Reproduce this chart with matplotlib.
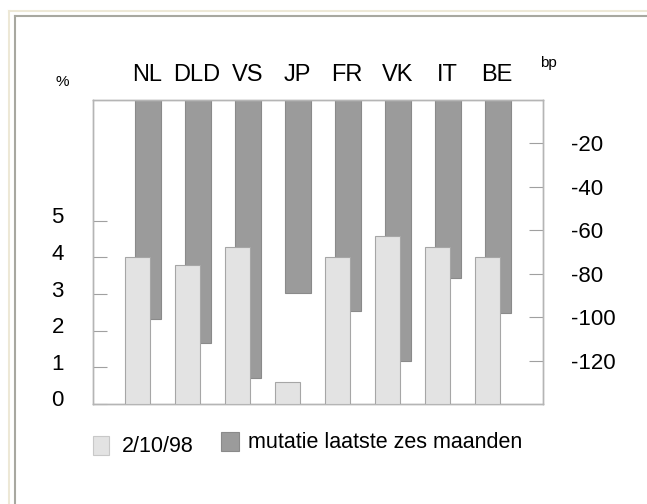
import matplotlib
matplotlib.use("Agg")
import matplotlib.pyplot as plt
from matplotlib.patches import Rectangle
from matplotlib.lines import Line2D
from matplotlib.transforms import ScaledTranslation

plt.rcParams['font.family'] = ['Liberation Sans', 'DejaVu Sans']

categories = ["NL", "DLD", "VS", "JP", "FR", "VK", "IT", "BE"]
level_pct = [4.0, 3.8, 4.3, 0.6, 4.0, 4.6, 4.3, 4.0]          # 2/10/98, left axis (%)
change_bp = [-101, -112, -128, -89, -97, -120, -82, -98]      # mutatie laatste zes maanden (bp)
left_ticks = [0, 1, 2, 3, 4, 5]
right_ticks = [-20, -40, -60, -80, -100, -120]
legend_labels = ["2/10/98", "mutatie laatste zes maanden"]

W, H = 647, 504
fig = plt.figure(figsize=(W / 100, H / 100), dpi=100)
fig.patch.set_facecolor('white')

light_face, light_edge = '#e3e3e3', '#a6a6a6'
dark_face, dark_edge = '#9b9b9b', '#8a8a8a'
spine_c = '#b5b5b5'
tick_c = '#a0a0a0'

def fx(x): return x / W
def fy(y): return 1 - y / H

# outer frame lines
fig.add_artist(Line2D([fx(9), 1.0], [fy(11), fy(11)], color='#ede8d6', lw=1.5, transform=fig.transFigure))
fig.add_artist(Line2D([fx(9), fx(9)], [fy(11), 0.0], color='#ede8d6', lw=1.5, transform=fig.transFigure))
fig.add_artist(Line2D([fx(15), 1.0], [fy(16), fy(16)], color='#a8a8a0', lw=1.5, transform=fig.transFigure))
fig.add_artist(Line2D([fx(15), fx(15)], [fy(16), 0.0], color='#a8a8a0', lw=1.5, transform=fig.transFigure))

ax = fig.add_axes([fx(93), fy(404), (543 - 93) / W, (404 - 100) / H])
ax2 = ax.twinx()

x = list(range(1, len(categories) + 1))

# dark bars (bp, right scale) on the bottom axes
ax.bar([xi + 0.095 for xi in x], change_bp, width=0.51, bottom=0,
       color=dark_face, edgecolor=dark_edge, linewidth=0.8, zorder=2)
ax.set_ylim(-140, 0)
ax.set_xlim(0, 9)
ax.yaxis.tick_right()
ax.yaxis.set_label_position('right')
ax.set_yticks(right_ticks)
ax.set_yticklabels([str(v) for v in right_ticks])
ax.tick_params(axis='y', direction='in', length=10, width=0.8, color=tick_c,
               pad=20, labelsize=16, left=False, right=True)
for lbl in ax.get_yticklabels():
    lbl.set_horizontalalignment('left')

ax.xaxis.tick_top()
ax.set_xticks(x)
ax.set_xticklabels(categories)
ax.tick_params(axis='x', direction='in', length=10, width=0.8, color=tick_c,
               top=True, bottom=True, labeltop=True, labelbottom=False,
               pad=11, labelsize=17)
for lbl in ax.get_xticklabels():
    lbl.set_transform(lbl.get_transform() + ScaledTranslation(3 / 72, -1 / 72, fig.dpi_scale_trans))

# light bars (%, left scale) on top
ax2.bar([xi - 0.115 for xi in x], level_pct, width=0.51,
        color=light_face, edgecolor=light_edge, linewidth=0.8, zorder=3)
ax2.set_ylim(0, 8.3)
ax2.yaxis.tick_left()
ax2.set_yticks(left_ticks)
ax2.set_yticklabels([str(v) for v in left_ticks])
ax2.tick_params(axis='y', direction='in', length=10, width=0.8, color=tick_c,
                pad=21, labelsize=16, left=True, right=False)
for lbl in ax2.get_yticklabels():
    lbl.set_transform(lbl.get_transform() + ScaledTranslation(0, 4 / 72, fig.dpi_scale_trans))

for a in (ax, ax2):
    for s in a.spines.values():
        s.set_color(spine_c)
        s.set_linewidth(1.0)

# unit labels
fig.text(fx(62), fy(82), "%", fontsize=11, ha='center', va='center')
fig.text(fx(548), fy(63), "bp", fontsize=11, ha='center', va='center')

# legend
fig.add_artist(Rectangle((fx(93), fy(455)), 16 / W, 19 / H, transform=fig.transFigure,
                         facecolor=light_face, edgecolor='#c8c8c8', linewidth=0.8))
fig.text(fx(122), fy(446), legend_labels[0], fontsize=15.5, ha='left', va='center')
fig.add_artist(Rectangle((fx(221), fy(451)), 18 / W, 19 / H, transform=fig.transFigure,
                         facecolor=dark_face, edgecolor=dark_edge, linewidth=0.8))
fig.text(fx(248), fy(442), legend_labels[1], fontsize=15.5, ha='left', va='center')

fig.savefig("out.png", dpi=100)
